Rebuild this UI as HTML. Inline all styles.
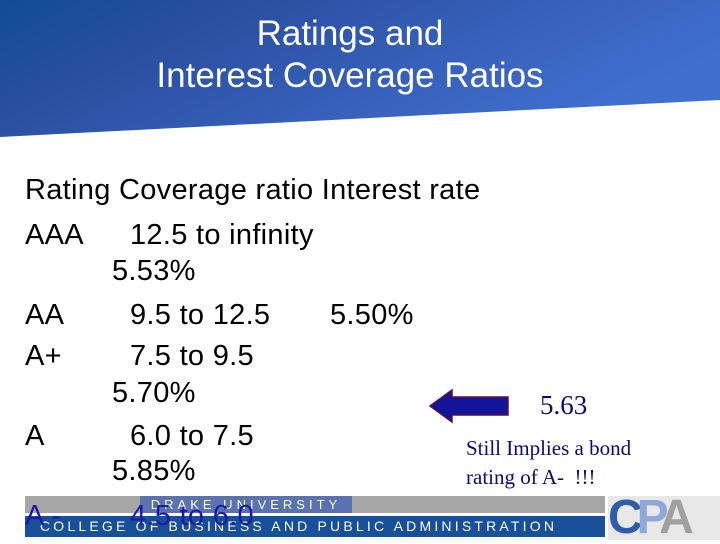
<!DOCTYPE html>
<html><head><meta charset="utf-8"><style>
body{margin:0;width:720px;height:540px;overflow:hidden;background:#fff;position:relative;font-family:"Liberation Sans",sans-serif}
.t{position:absolute;font-size:29px;color:#000;white-space:pre;line-height:1;letter-spacing:0.3px}
.s{position:absolute;font-family:"Liberation Serif",serif;color:#0b0b6b;white-space:pre;line-height:1}
</style></head><body>
<svg width="720" height="140" style="position:absolute;left:0;top:0">
<defs><linearGradient id="g" x1="0" y1="0" x2="1" y2="0.4"><stop offset="0" stop-color="#0f4d95"/><stop offset="0.3" stop-color="#2a4fa0"/><stop offset="1" stop-color="#416fd0"/></linearGradient></defs>
<polygon points="0,0 720,0 720,100 0,137" fill="url(#g)"/>
</svg>
<div style="position:absolute;left:0;top:13px;width:700px;text-align:center;color:#fff;font-size:35px;line-height:42px">Ratings and<br>Interest Coverage Ratios</div>

<div style="position:absolute;left:25px;top:496px;width:580px;height:17px;background:#a6a6a6"></div>
<div style="position:absolute;left:140px;top:496px;width:212px;height:17px;background:#5a72b0;color:#fff;font-size:13px;letter-spacing:4px;line-height:17px;text-align:center">DRAKE UNIVERSITY</div>
<div style="position:absolute;left:25px;top:516px;width:580px;height:21px;background:#174f98;color:#fff;font-size:14px;letter-spacing:3.2px;line-height:21px;padding-left:15px;box-sizing:border-box;white-space:nowrap">COLLEGE OF BUSINESS AND PUBLIC ADMINISTRATION</div>
<div style="position:absolute;left:608px;top:496px;width:112px;height:44px;background:#e8e8e8;font-size:48px;font-weight:bold;line-height:44px;letter-spacing:-6px"><span style="color:#2f5ba8">C</span><span style="color:#8fa8d8">P</span><span style="color:#a0a0a0">A</span></div>

<div class="t" style="left:25px;top:176px">Rating Coverage ratio Interest rate</div>
<div class="t" style="left:25px;top:221px">AAA</div>
<div class="t" style="left:130px;top:221px">12.5 to infinity</div>
<div class="t" style="left:112px;top:257px">5.53%</div>
<div class="t" style="left:25px;top:301px">AA</div>
<div class="t" style="left:130px;top:301px">9.5 to 12.5</div>
<div class="t" style="left:330px;top:301px">5.50%</div>
<div class="t" style="left:25px;top:342px">A+</div>
<div class="t" style="left:130px;top:342px">7.5 to 9.5</div>
<div class="t" style="left:112px;top:379px">5.70%</div>
<div class="t" style="left:25px;top:422px">A</div>
<div class="t" style="left:130px;top:422px">6.0 to 7.5</div>
<div class="t" style="left:112px;top:457px">5.85%</div>
<div class="t" style="left:25px;top:502px;color:#1a1aa8">A -</div>
<div class="t" style="left:130px;top:502px;color:#1a1aa8">4.5 to 6.0</div>

<svg width="90" height="40" style="position:absolute;left:428px;top:388px">
<polygon points="2,18 24,2 24,9 80,9 80,27 24,27 24,34" fill="#14149a" stroke="#5a1040" stroke-width="1.5"/>
</svg>
<div class="s" style="left:540px;top:392px;font-size:27px">5.63</div>
<div class="s" style="left:466px;top:434px;font-size:21px;line-height:29px">Still Implies a bond<br>rating of A-  !!!</div>
</body></html>
